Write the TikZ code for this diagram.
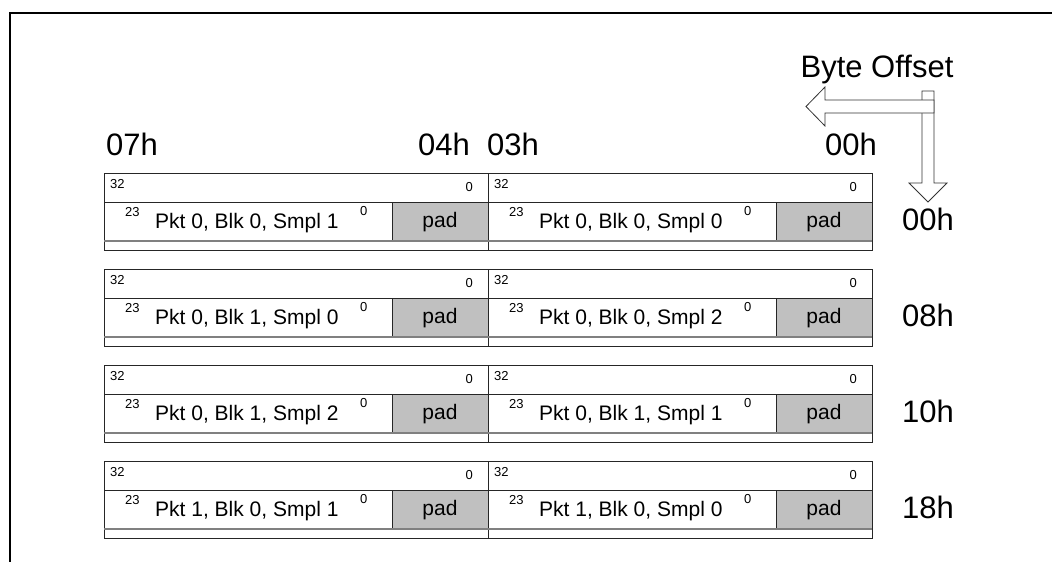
\documentclass[tikz,border=0pt]{standalone}
\usepackage{fontspec}
\setmainfont{Liberation Sans}
\usepackage{tikz}

\definecolor{padgray}{HTML}{C0C0C0}

\tikzset{
  bitnum/.style={font=\fontsize{13}{13}\selectfont, inner sep=0pt},
  field/.style={font=\fontsize{21}{21}\selectfont, inner sep=0pt},
  hexlbl/.style={font=\fontsize{31}{31}\selectfont, inner sep=0pt},
  padbox/.style={draw=black!85, fill=padgray, line width=0.8pt},
  hollow/.style={draw=black!80, fill=white, line width=0.8pt, line join=miter},
}

\begin{document}
\begin{tikzpicture}[x=1pt, y=-1pt]
                \useasboundingbox (0,0) rectangle (1052,562);

                % Frame
                \draw[line width=2pt] (10,562) -- (10,13) -- (1052,13);

                % Byte Offset
                \node[hexlbl, anchor=base] (bo) at (877,77) {Byte Offset};
                \draw[hollow] (922,91) -- (934,91) -- (934,183) -- (947,183) -- (928,202)
                              -- (909,183) -- (922,183) -- cycle;
                \draw[hollow] (934,100) -- (825,100) -- (825,87) -- (806,106.5)
                              -- (825,126) -- (825,113) -- (934,113) -- cycle;

                % Column byte numbers
                \node[hexlbl, anchor=base west] (c07) at (106,155) {07h};
                \node[hexlbl, anchor=base east] (c04) at (470,155) {04h};
                \node[hexlbl, anchor=base west] (c03) at (487,155) {03h};
                \node[hexlbl, anchor=base east] (c00) at (877,155) {00h};

                % Quadlets, two per row
                \foreach \r/\ws/\wz/\off in {
                    0/{Pkt 0, Blk 0, Smpl 1}/{Pkt 0, Blk 0, Smpl 0}/00h,
                    1/{Pkt 0, Blk 1, Smpl 0}/{Pkt 0, Blk 0, Smpl 2}/08h,
                    2/{Pkt 0, Blk 1, Smpl 2}/{Pkt 0, Blk 1, Smpl 1}/10h,
                    3/{Pkt 1, Blk 0, Smpl 1}/{Pkt 1, Blk 0, Smpl 0}/18h} {
                  \begin{scope}[shift={(0,96*\r)}]
                    \node[hexlbl] (off\r) at (928,219) {\off};
                    \foreach \h/\txt in {0/\ws, 384/\wz} {
                      \begin{scope}[shift={(104+\h,173)}]
                        \draw[padbox] (288,29) rectangle (384,68);
                        \draw[black!85, line width=0.8pt] (0,0) rectangle (384,77);
                        \draw[black!85, line width=0.8pt] (0,29) -- (384,29);
                        \draw[gray, line width=1.6pt] (0,68) -- (384,68);
                        \node[bitnum, anchor=north west] (msb\r-\h) at (6,6) {32};
                        \node[bitnum, anchor=north east] (lsb\r-\h) at (369,9) {0};
                        \node[bitnum, anchor=north west] (hi\r-\h) at (21,34) {23};
                        \node[field, anchor=west] (smp\r-\h) at (51,50) {\txt};
                        \node[bitnum, anchor=north west] (lo\r-\h) at (256,33) {0};
                        \node[field] (pad\r-\h) at (336,49) {pad};
                      \end{scope}
                    }
                  \end{scope}
                }
\end{tikzpicture}
\end{document}
